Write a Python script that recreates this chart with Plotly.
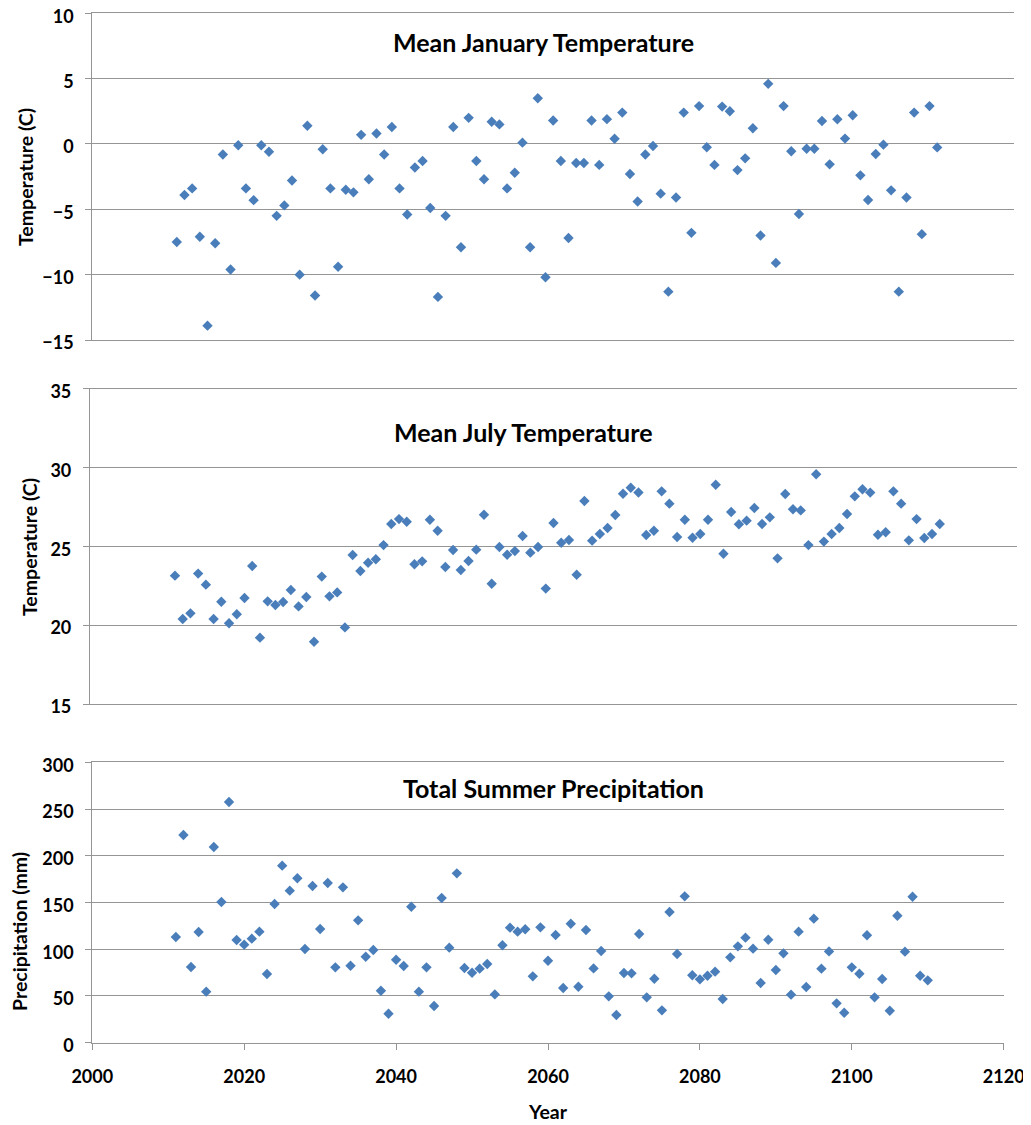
import plotly.graph_objects as go

years = list(range(2011, 2111))

jan_temp = [
    -7.5, -3.9, -3.4, -7.1, -13.9, -7.6, -0.8, -9.6, -0.1, -3.4,
    -4.3, -0.1, -0.6, -5.5, -4.7, -2.8, -10.0, 1.4, -11.6, -0.4,
    -3.4, -9.4, -3.5, -3.7, 0.7, -2.7, 0.8, -0.8, 1.3, -3.4,
    -5.4, -1.8, -1.3, -4.9, -11.7, -5.5, 1.3, -7.9, 2.0, -1.3,
    -2.7, 1.7, 1.5, -3.4, -2.2, 0.1, -7.9, 3.5, -10.2, 1.8,
    -1.3, -7.2, -1.45, -1.45, 1.8, -1.6, 1.9, 0.4, 2.4, -2.3,
    -4.4, -0.8, -0.15, -3.8, -11.3, -4.1, 2.4, -6.8, 2.9, -0.25,
    -1.6, 2.86, 2.5, -2.0, -1.1, 1.2, -7.0, 4.6, -9.1, 2.9,
    -0.56, -5.36, -0.36, -0.36, 1.76, -1.56, 1.89, 0.41, 2.2, -2.4,
    -4.29, -0.77, -0.05, -3.55, -11.3, -4.1, 2.4, -6.9, 2.9, -0.26,
]

jul_temp = [
    23.14, 20.39, 20.75, 23.27, 22.57, 20.39, 21.49, 20.12, 20.69, 21.72,
    23.75, 19.21, 21.51, 21.28, 21.47, 22.23, 21.19, 21.79, 18.95, 23.08,
    21.83, 22.08, 19.86, 24.45, 23.44, 23.96, 24.18, 25.08, 26.42, 26.73,
    26.56, 23.86, 24.05, 26.69, 25.99, 23.69, 24.77, 23.5, 24.07, 24.79,
    27.0, 22.63, 24.96, 24.47, 24.7, 25.66, 24.6, 24.96, 22.32, 26.48,
    25.23, 25.4, 23.2, 27.88, 25.36, 25.78, 26.16, 26.99, 28.34, 28.72,
    28.42, 25.72, 25.99, 28.49, 27.71, 25.59, 26.69, 25.55, 25.78, 26.69,
    28.91, 24.53, 27.18, 26.4, 26.63, 27.43, 26.42, 26.84, 24.24, 28.32,
    27.35, 27.28, 25.08, 29.57, 25.3, 25.78, 26.16, 27.05, 28.17, 28.62,
    28.41, 25.74, 25.89, 28.49, 27.71, 25.38, 26.73, 25.53, 25.78, 26.42,
]

summer_precip = [
    113.1, 222.2, 81.0, 118.4, 54.6, 209.4, 150.5, 257.5, 109.9, 104.9,
    111.3, 118.8, 73.5, 148.4, 189.4, 162.7, 175.9, 100.2, 167.6, 121.6,
    170.9, 80.6, 166.2, 82.4, 130.9, 92.0, 99.2, 55.6, 31.0, 88.8,
    82.0, 145.5, 54.6, 80.6, 39.2, 154.8, 101.7, 181.2, 79.9, 74.9,
    79.2, 84.2, 51.7, 104.2, 123.1, 118.8, 121.3, 71.0, 123.4, 87.7,
    115.2, 58.5, 127.3, 59.9, 120.6, 79.5, 98.1, 49.6, 29.6, 74.6,
    74.2, 116.3, 48.5, 68.5, 34.6, 139.8, 94.9, 156.6, 72.1, 67.8,
    71.7, 76.0, 46.7, 91.3, 103.1, 112.4, 100.6, 63.9, 110.2, 77.8,
    95.6, 51.4, 118.8, 59.6, 132.7, 79.2, 97.7, 42.1, 32.1, 80.6,
    73.8, 114.9, 48.5, 68.1, 34.2, 135.9, 97.4, 156.2, 71.7, 66.7,
]

# the page body has an 8px margin, so the figure starts at (8, 8) in the window
OFF = 8
W, H = 1031 - OFF, 1125 - OFF
FONT = "Lato"
MARKER_COLOR = "#4A7EBB"
GRID = "#959595"

fig = go.Figure()

series = [jan_temp, jul_temp, summer_precip]
for i, vals in enumerate(series):
    ax = "" if i == 0 else str(i + 1)
    fig.add_trace(go.Scatter(
        x=years, y=vals, mode="markers",
        marker=dict(symbol="diamond", size=8, color=MARKER_COLOR),
        xaxis="x" + ax, yaxis="y" + ax, showlegend=False,
        hoverinfo="x+y", cliponaxis=False,
    ))

# helpers take window pixel positions
def px_x(a, b):
    return [(a - OFF) / W, (b - OFF) / W]

def px_y(top, bottom):
    return [1 - (bottom - OFF) / H, 1 - (top - OFF) / H]

tickfont = dict(family=FONT, size=18, color="black", weight="bold")

# excel puts the y labels a touch below their gridlines
yaxis_common = dict(
    showgrid=True, gridcolor=GRID, gridwidth=1.2,
    showline=True, linecolor=GRID, linewidth=1.2,
    ticks="outside", ticklen=6, tickcolor=GRID,
    tickfont=tickfont, zeroline=False, ticklabelstandoff=8,
    ticklabelshift=3, ticklabeloverflow="allow", automargin=False,
)
# hidden x axes still draw a line at bottom and (mirrored) top = edge gridlines
xaxis_hidden = dict(
    range=[2000, 2120], showgrid=False, zeroline=False,
    showline=True, mirror=True, linecolor=GRID, linewidth=1.2,
    showticklabels=False, ticks="", automargin=False,
)

fig.update_layout(
    width=W, height=H,
    margin=dict(l=0, r=0, t=0, b=0),
    plot_bgcolor="white", paper_bgcolor="white",
    xaxis=dict(domain=px_x(92.3, 1014), anchor="y", **xaxis_hidden),
    yaxis=dict(domain=px_y(13.3, 340), anchor="x", range=[-15, 10],
               dtick=5, **yaxis_common),
    xaxis2=dict(domain=px_x(90, 1017), anchor="y2", **xaxis_hidden),
    yaxis2=dict(domain=px_y(388.7, 704), anchor="x2", range=[15, 35],
                dtick=5, **yaxis_common),
    xaxis3=dict(domain=px_x(92.3, 1003.7), anchor="y3", range=[2000, 2120],
                dtick=20, showgrid=False, zeroline=False,
                showline=True, mirror=True, linecolor=GRID, linewidth=1.2,
                ticks="outside", ticklen=6, tickcolor=GRID,
                tickfont=tickfont, ticklabelstandoff=12,
                ticklabeloverflow="allow", automargin=False),
    yaxis3=dict(domain=px_y(762.3, 1042.7), anchor="x3", range=[0, 300],
                dtick=50, **yaxis_common),
)

def add_text(text, x, y, size, angle=0):
    fig.add_annotation(
        text="<b>" + text + "</b>", x=(x - OFF) / W, y=1 - (y - OFF) / H,
        xref="paper", yref="paper", showarrow=False, textangle=angle,
        xanchor="center", yanchor="middle",
        font=dict(family=FONT, size=size, color="black"),
    )

# panel titles
add_text("Mean January Temperature", 543, 42, 25)
add_text("Mean July Temperature", 523, 432, 25)
add_text("Total Summer Precipitation", 553, 788, 25)

# axis titles
add_text("Temperature (C)", 25, 177, 19.5, -90)
add_text("Temperature (C)", 29, 547, 19.5, -90)
add_text("Precipitation (mm)", 19, 932, 19.5, -90)
add_text("Year", 548, 1111, 19.5)

fig.write_html("out.html")
